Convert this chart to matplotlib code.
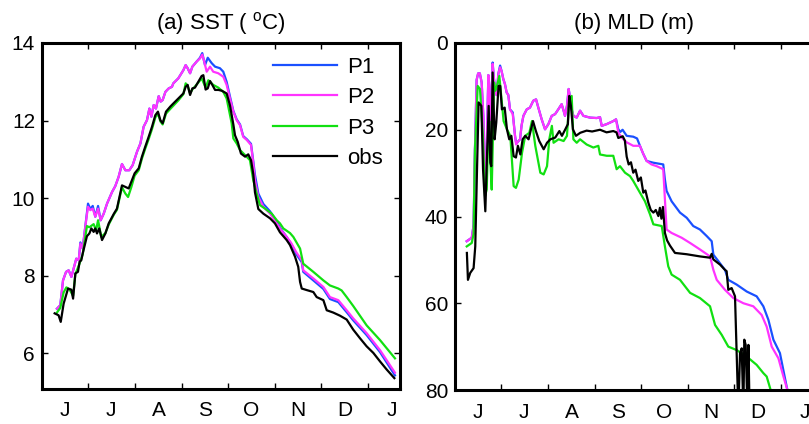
import matplotlib
matplotlib.use("Agg")
import matplotlib.pyplot as plt
import numpy as np

plt.rcParams['font.family'] = ['Liberation Sans', 'DejaVu Sans']
plt.rcParams['mathtext.default'] = 'regular'

# x axis: days since 1 June
months = ["J", "J", "A", "S", "O", "N", "D", "J"]
month_starts = [0, 30, 61, 92, 122, 153, 183, 214, 245]

# (a) SST (deg C), (day, value)
sst_p1 = [(9.8, 7.15), (12.0, 7.24), (13.8, 7.88), (15.8, 8.10), (17.5, 8.14), (19.3, 7.97), (22.5, 8.44),
          (24.1, 8.40), (25.2, 8.86), (26.7, 8.70), (28.4, 9.26), (30.2, 9.86), (31.7, 9.72), (33.3, 9.80),
          (35.0, 9.52), (36.8, 9.80), (38.5, 9.43), (40.5, 9.60), (42.7, 9.86), (46.0, 10.16), (48.1, 10.31),
          (50.3, 10.55), (52.5, 10.88), (54.7, 10.72), (57.3, 10.72), (59.5, 10.85), (62.4, 11.20), (64.6, 11.41),
          (66.7, 11.84), (68.9, 12.01), (70.5, 12.31), (71.8, 12.10), (73.3, 12.40), (74.8, 12.31), (76.6, 12.63),
          (77.9, 12.49), (79.2, 12.53), (81.0, 12.74), (83.2, 12.83), (85.3, 12.87), (86.2, 12.96), (89.5, 13.09),
          (92.8, 13.30), (94.3, 13.43), (95.6, 13.35), (97.2, 13.22), (98.7, 13.39), (101.5, 13.52), (103.7, 13.62),
          (105.2, 13.74), (107.0, 13.43), (108.8, 13.62), (111.4, 13.48), (113.6, 13.39), (116.8, 13.35),
          (119.0, 13.26), (121.2, 13.00), (123.4, 12.62), (125.6, 12.25), (127.8, 12.03), (130.0, 11.90),
          (132.1, 11.60), (134.4, 11.52), (137.2, 11.40), (138.7, 10.95), (139.8, 10.60), (142.0, 10.12),
          (145.3, 9.85), (149.7, 9.66), (154.1, 9.40), (156.5, 9.22), (160.6, 9.00), (163.5, 8.82), (167.0, 8.55),
          (170.5, 8.35), (171.5, 8.10), (178.1, 7.88), (184.7, 7.66), (189.0, 7.40), (194.5, 7.32), (200.0, 7.06),
          (204.3, 6.85), (213.1, 6.47), (221.9, 6.03), (231.7, 5.43)]
sst_p2 = [(9.8, 7.15), (12.0, 7.24), (13.8, 7.88), (15.8, 8.10), (17.5, 8.14), (19.3, 7.97), (22.5, 8.44),
          (24.1, 8.40), (25.2, 8.83), (26.7, 8.70), (28.4, 9.26), (30.2, 9.78), (31.7, 9.69), (33.3, 9.73),
          (35.0, 9.52), (36.8, 9.73), (38.5, 9.43), (40.5, 9.60), (42.7, 9.86), (46.0, 10.16), (48.1, 10.31),
          (50.3, 10.55), (52.5, 10.88), (54.7, 10.72), (57.3, 10.72), (59.5, 10.85), (62.4, 11.20), (64.6, 11.41),
          (66.7, 11.84), (68.9, 12.01), (70.5, 12.31), (71.8, 12.10), (73.3, 12.40), (74.8, 12.31), (76.6, 12.63),
          (77.9, 12.49), (79.2, 12.53), (81.0, 12.74), (83.2, 12.83), (85.3, 12.87), (86.2, 12.96), (89.5, 13.09),
          (92.8, 13.30), (94.3, 13.43), (95.6, 13.35), (97.2, 13.22), (98.7, 13.39), (101.5, 13.52), (103.7, 13.60),
          (105.2, 13.70), (106.5, 13.52), (108.1, 13.26), (110.3, 13.39), (112.4, 13.26), (115.7, 13.22),
          (119.0, 13.13), (121.2, 12.92), (123.4, 12.57), (125.6, 12.23), (127.8, 12.01), (130.0, 11.88),
          (132.1, 11.58), (134.4, 11.50), (137.2, 11.37), (138.7, 10.90), (139.8, 10.46), (142.0, 10.03),
          (145.3, 9.78), (149.7, 9.60), (154.1, 9.35), (156.5, 9.20), (160.6, 9.00), (163.5, 8.85), (167.0, 8.60),
          (170.5, 8.40), (171.5, 8.14), (178.1, 7.93), (184.7, 7.71), (189.0, 7.45), (194.5, 7.37), (200.0, 7.11),
          (204.3, 6.90), (213.1, 6.52), (221.9, 6.08), (231.7, 5.50)]
sst_p3 = [(9.8, 7.05), (12.0, 7.17), (14.2, 7.57), (16.0, 7.70), (18.0, 7.65), (20.4, 7.48), (21.9, 8.04),
          (24.5, 8.30), (26.7, 8.55), (29.5, 9.28), (31.1, 9.25), (33.9, 9.33), (35.5, 9.17), (36.8, 9.43),
          (38.9, 9.00), (41.6, 9.10), (43.8, 9.32), (47.2, 9.58), (49.2, 9.70), (52.5, 10.28), (54.7, 10.12),
          (56.5, 10.03), (58.6, 10.28), (60.8, 10.58), (63.5, 10.72), (65.6, 11.02), (67.8, 11.28), (70.0, 11.52),
          (72.2, 11.78), (74.4, 12.08), (76.1, 12.18), (77.7, 11.98), (79.2, 11.90), (81.4, 12.18), (84.2, 12.30),
          (89.5, 12.52), (92.8, 12.68), (94.3, 12.96), (95.6, 12.90), (97.2, 12.70), (98.7, 12.80), (102.6, 12.98),
          (104.8, 13.09), (107.4, 12.85), (109.2, 13.04), (112.4, 12.92), (115.7, 12.85), (119.0, 12.74),
          (121.2, 12.57), (124.5, 11.93), (125.6, 11.54), (127.8, 11.41), (130.0, 11.24), (133.3, 11.11),
          (136.5, 10.98), (138.7, 10.46), (140.9, 10.12), (143.1, 9.82), (146.4, 9.73), (150.8, 9.60),
          (154.1, 9.43), (156.2, 9.35), (158.4, 9.22), (162.8, 9.10), (165.0, 9.00), (169.4, 8.70), (171.5, 8.31),
          (178.1, 8.10), (184.7, 7.88), (189.0, 7.75), (194.5, 7.67), (196.7, 7.62), (200.0, 7.45), (204.3, 7.22),
          (213.1, 6.72), (221.9, 6.34), (231.7, 5.87)]
sst_obs = [(8.3, 7.03), (10.9, 6.98), (12.3, 6.81), (14.2, 7.28), (17.1, 7.67), (19.3, 7.64), (20.4, 7.41),
           (21.9, 8.06), (23.6, 8.10), (24.7, 8.36), (25.8, 8.40), (26.7, 8.57), (29.5, 9.02), (31.1, 9.09),
           (32.4, 9.22), (33.9, 9.13), (35.0, 9.22), (36.1, 9.09), (37.6, 9.22), (39.4, 8.92), (41.6, 9.09),
           (43.8, 9.35), (47.2, 9.60), (49.2, 9.73), (52.5, 10.33), (54.7, 10.29), (56.9, 10.25), (58.6, 10.42),
           (60.8, 10.64), (63.5, 10.77), (65.6, 11.07), (67.8, 11.33), (70.0, 11.58), (72.2, 11.84), (74.4, 12.14),
           (76.1, 12.23), (77.7, 12.01), (79.2, 11.93), (81.4, 12.23), (84.2, 12.36), (86.2, 12.44), (89.5, 12.57),
           (92.8, 12.70), (94.3, 12.87), (95.6, 12.92), (97.2, 12.66), (98.7, 12.83), (100.4, 12.85), (102.6, 13.00),
           (104.8, 13.15), (105.9, 13.17), (107.4, 12.80), (108.8, 12.83), (110.3, 13.02), (111.8, 12.92),
           (113.6, 12.79), (115.8, 12.79), (118.0, 12.77), (121.2, 12.70), (123.4, 12.39), (125.6, 11.90),
           (126.7, 11.62), (128.5, 11.45), (130.6, 11.15), (133.3, 11.07), (135.4, 11.13), (137.2, 10.98),
           (138.7, 10.62), (139.8, 10.15), (142.0, 9.72), (145.3, 9.60), (149.7, 9.48), (152.9, 9.35), (156.2, 9.12),
           (160.6, 8.92), (162.8, 8.79), (166.1, 8.49), (168.2, 8.23), (169.4, 7.84), (170.5, 7.67), (173.8, 7.63),
           (178.1, 7.58), (180.3, 7.45), (184.7, 7.37), (186.9, 7.11), (191.2, 7.05), (195.6, 6.97), (200.0, 6.87),
           (204.3, 6.61), (208.7, 6.39), (213.1, 6.18), (217.5, 6.01), (221.9, 5.79), (226.3, 5.58), (231.3, 5.36)]

# (b) MLD (m), (day, value); values past 80 m run off the axis
mld_p1 = [(7.7, 45.7), (11.0, 44.9), (12.2, 42.0), (13.1, 24.5), (14.2, 8.5), (15.2, 7.0), (16.3, 7.0),
          (17.5, 9.1), (18.6, 16.8), (19.6, 30.0), (20.4, 32.0), (21.2, 18.0), (21.9, 7.4), (22.6, 10.0),
          (23.3, 22.0), (24.0, 16.0), (24.7, 4.5), (25.5, 8.0), (26.3, 10.5), (27.3, 12.0), (28.5, 7.0),
          (29.6, 5.2), (30.6, 6.5), (31.7, 8.3), (32.8, 9.5), (33.9, 11.4), (35.0, 12.0), (36.1, 15.3),
          (37.9, 16.0), (39.4, 21.4), (40.1, 23.0), (41.2, 22.8), (42.7, 22.2), (43.7, 19.0), (44.9, 16.8),
          (47.1, 15.3), (49.2, 14.9), (51.4, 13.3), (53.2, 13.0), (54.7, 14.9), (56.9, 17.6), (59.1, 19.9),
          (61.3, 18.7), (63.5, 16.8), (65.7, 16.4), (67.8, 15.3), (70.0, 14.1), (71.2, 15.5), (72.2, 16.8),
          (73.5, 14.5), (74.6, 10.6), (75.5, 12.5), (76.6, 15.3), (77.7, 16.8), (79.9, 17.2), (82.1, 15.6),
          (84.3, 16.8), (88.6, 17.2), (93.0, 17.3), (95.2, 17.1), (96.3, 19.1), (99.6, 18.7), (103.9, 18.0),
          (105.7, 17.6), (107.2, 19.9), (108.5, 20.5), (110.0, 20.0), (112.7, 21.4), (117.0, 21.6), (119.5, 22.0),
          (121.4, 23.7), (123.5, 25.5), (125.8, 27.2), (130.2, 27.6), (136.7, 28.0), (137.8, 31.5), (138.9, 34.1),
          (142.2, 36.5), (147.7, 39.1), (152.1, 40.3), (156.4, 42.2), (160.8, 43.0), (165.2, 44.5), (168.5, 45.7),
          (169.6, 48.8), (172.9, 50.3), (177.2, 52.3), (179.4, 54.6), (184.9, 55.7), (191.5, 57.3), (198.0, 58.4),
          (202.4, 60.7), (205.7, 63.8), (209.0, 68.4), (213.3, 71.5), (217.7, 79.2), (219.5, 82.0)]
mld_p2 = [(7.7, 45.7), (11.0, 44.9), (12.2, 42.0), (13.1, 24.5), (14.2, 8.5), (15.2, 7.0), (16.3, 7.0),
          (17.5, 9.1), (18.6, 16.8), (19.6, 30.0), (20.4, 32.0), (21.2, 18.0), (21.9, 7.4), (22.6, 10.0),
          (23.3, 22.0), (24.0, 16.0), (24.7, 4.8), (25.5, 8.0), (26.3, 10.5), (27.3, 12.0), (28.5, 7.0),
          (29.6, 5.6), (30.6, 6.5), (31.7, 8.3), (32.8, 9.5), (33.9, 11.4), (35.0, 12.0), (36.1, 15.3),
          (37.9, 16.4), (39.4, 21.4), (40.1, 23.4), (41.2, 22.8), (42.7, 22.2), (43.7, 19.0), (44.9, 16.8),
          (47.1, 15.3), (49.2, 14.9), (51.4, 13.3), (53.2, 13.0), (54.7, 14.9), (56.9, 17.6), (59.1, 19.9),
          (61.3, 18.7), (63.5, 16.8), (65.7, 16.4), (67.8, 15.3), (70.0, 14.1), (71.2, 15.5), (72.2, 16.8),
          (73.5, 14.5), (74.6, 10.6), (75.5, 12.5), (76.6, 15.3), (77.7, 16.8), (79.9, 17.2), (82.1, 15.6),
          (84.3, 16.8), (88.6, 17.2), (93.0, 17.3), (95.2, 17.1), (96.3, 19.1), (99.6, 18.7), (103.9, 18.0),
          (105.7, 17.6), (107.2, 20.7), (110.0, 22.0), (112.7, 22.9), (117.0, 23.7), (121.4, 23.7), (123.5, 25.5),
          (125.8, 27.2), (129.0, 28.0), (132.4, 28.4), (136.7, 29.1), (137.8, 36.1), (138.9, 43.0), (142.2, 43.8),
          (148.8, 44.9), (154.3, 46.1), (160.8, 47.6), (167.4, 49.2), (169.6, 52.3), (171.8, 54.6), (177.2, 56.9),
          (182.7, 58.8), (189.3, 60.0), (195.8, 60.7), (201.3, 62.7), (204.6, 65.4), (207.9, 70.0), (212.3, 72.7),
          (215.6, 76.9), (218.2, 80.0), (219.0, 82.0)]
mld_p3 = [(7.7, 46.9), (11.0, 46.1), (12.2, 44.0), (13.1, 24.5), (14.9, 9.9), (16.4, 10.6), (18.2, 20.7),
          (19.7, 35.3), (20.8, 33.8), (21.9, 20.7), (22.5, 18.0), (23.2, 27.0), (24.1, 33.8), (25.0, 20.0),
          (25.6, 9.1), (26.5, 11.0), (27.5, 10.0), (29.1, 7.6), (31.9, 18.0), (34.1, 19.9), (36.3, 21.4),
          (38.5, 33.0), (40.0, 33.4), (41.8, 31.5), (44.0, 25.3), (46.1, 21.4), (48.8, 20.7), (50.5, 18.0),
          (52.7, 23.7), (56.0, 29.9), (58.2, 30.3), (60.4, 28.4), (61.9, 22.2), (63.6, 19.1), (64.7, 23.0),
          (68.0, 22.2), (71.3, 22.6), (73.5, 21.4), (75.0, 13.0), (76.6, 12.2), (77.7, 22.2), (79.9, 23.0),
          (82.1, 22.2), (86.4, 23.4), (90.8, 24.1), (94.1, 23.7), (95.2, 25.7), (99.6, 26.0), (103.9, 26.0),
          (106.1, 29.1), (108.3, 28.4), (111.6, 29.9), (114.9, 30.7), (117.0, 31.8), (121.4, 34.5), (124.7, 36.5),
          (128.0, 39.5), (130.2, 41.8), (135.7, 42.2), (137.8, 46.9), (140.0, 51.5), (142.2, 53.4), (147.7, 54.6),
          (154.3, 57.6), (160.8, 58.8), (167.4, 60.7), (170.7, 65.0), (175.1, 67.3), (179.4, 70.0), (184.9, 70.8),
          (191.5, 72.3), (198.0, 74.2), (202.4, 76.1), (204.6, 76.9), (207.2, 80.0), (208.0, 82.0)]
mld_obs = [(7.8, 48.4), (8.5, 54.6), (10.0, 53.0), (12.2, 51.9), (13.3, 46.9), (14.4, 29.9), (15.5, 13.7),
           (17.3, 14.5), (18.4, 29.1), (19.9, 38.8), (21.0, 26.1), (22.1, 14.5), (23.2, 27.6), (23.8, 28.4),
           (24.7, 6.8), (26.0, 22.2), (27.1, 18.3), (28.6, 9.9), (29.7, 9.9), (30.8, 15.3), (32.6, 14.9),
           (34.1, 19.9), (35.6, 22.2), (37.0, 21.4), (38.5, 26.1), (40.0, 26.4), (41.3, 23.7), (42.9, 25.7),
           (44.4, 22.2), (46.1, 21.4), (48.3, 22.2), (51.2, 18.0), (53.1, 20.3), (55.3, 22.6), (58.2, 24.5),
           (60.4, 23.0), (62.6, 22.2), (65.8, 21.8), (68.5, 20.3), (70.2, 21.4), (72.4, 19.9), (74.1, 18.7),
           (75.0, 12.2), (76.1, 14.5), (77.4, 19.9), (79.4, 21.4), (82.2, 20.7), (86.4, 20.2), (90.0, 20.4),
           (95.2, 20.0), (99.5, 20.6), (103.9, 20.3), (106.0, 20.6), (107.2, 21.9), (110.1, 21.5), (111.5, 22.5),
           (112.7, 26.2), (114.0, 28.0), (115.5, 27.5), (117.0, 29.9), (118.5, 29.2), (120.3, 31.8), (122.0, 31.0),
           (123.6, 34.5), (125.0, 34.0), (126.9, 36.8), (128.5, 38.5), (130.2, 39.1), (131.8, 38.5), (133.5, 39.9),
           (134.5, 38.0), (135.5, 40.5), (136.5, 37.8), (137.8, 43.8), (139.2, 45.5), (141.1, 46.7), (144.4, 48.4),
           (152.1, 48.7), (160.8, 49.2), (167.4, 49.5), (168.5, 48.6), (169.6, 49.9), (174.0, 51.1), (177.2, 52.3),
           (178.3, 52.6), (179.4, 56.9), (181.6, 56.5), (183.8, 58.4), (186.0, 85.0), (187.1, 71.5), (188.2, 70.4),
           (189.3, 85.0), (189.9, 68.4), (190.8, 69.6), (192.0, 85.0), (192.6, 69.6), (193.4, 85.0)]

names = ["P1", "P2", "P3", "obs"]
colors = ["#1a50ff", "#ff33ff", "#11e011", "black"]

fig = plt.figure(figsize=(8.09, 4.24), dpi=100)
ax1 = fig.add_axes([42 / 809, 35 / 424, 358 / 809, 346 / 424])
ax2 = fig.add_axes([455 / 809, 34 / 424, 358 / 809, 347 / 424])

mids = [(a + b) / 2 for a, b in zip(month_starts[:-1], month_starts[1:])]


def style(ax):
    for s in ax.spines.values():
        s.set_linewidth(2.2)
    ax.set_xlim(0, 235)
    ax.set_xticks(month_starts[1:8])
    ax.set_xticklabels([])
    ax.set_xticks(mids, minor=True)
    ax.set_xticklabels(months, minor=True)
    ax.tick_params(which="major", direction="in", length=4, width=1, top=True, right=True,
                   labelsize=15, pad=5)
    ax.tick_params(axis="x", which="minor", length=0, pad=9, labelsize=15)


for data, name, c in zip([sst_p1, sst_p2, sst_p3, sst_obs], names, colors):
    d = np.array(data)
    ax1.plot(d[:, 0], d[:, 1], color=c, lw=1.6, label=name)
style(ax1)
ax1.set_ylim(5.08, 14)
ax1.set_yticks([6, 8, 10, 12, 14])
ax1.set_title("(a) SST ( $^{o}$C)", fontsize=16, pad=10)
ax1.legend(loc="upper left", bbox_to_anchor=(0.645, 0.96), frameon=False, fontsize=16,
           handlelength=2.9, handletextpad=0.45, labelspacing=0.42, borderaxespad=0, borderpad=0)

for data, name, c in zip([mld_p1, mld_p2, mld_p3, mld_obs], names, colors):
    d = np.array(data)
    ax2.plot(d[:, 0], d[:, 1], color=c, lw=1.6, label=name)
style(ax2)
ax2.tick_params(which="major", right=False)
ax2.set_ylim(80, 0)
ax2.set_yticks([0, 20, 40, 60, 80])
ax2.set_title("(b) MLD (m)", fontsize=16, pad=10)

fig.savefig("out.png", dpi=100)
